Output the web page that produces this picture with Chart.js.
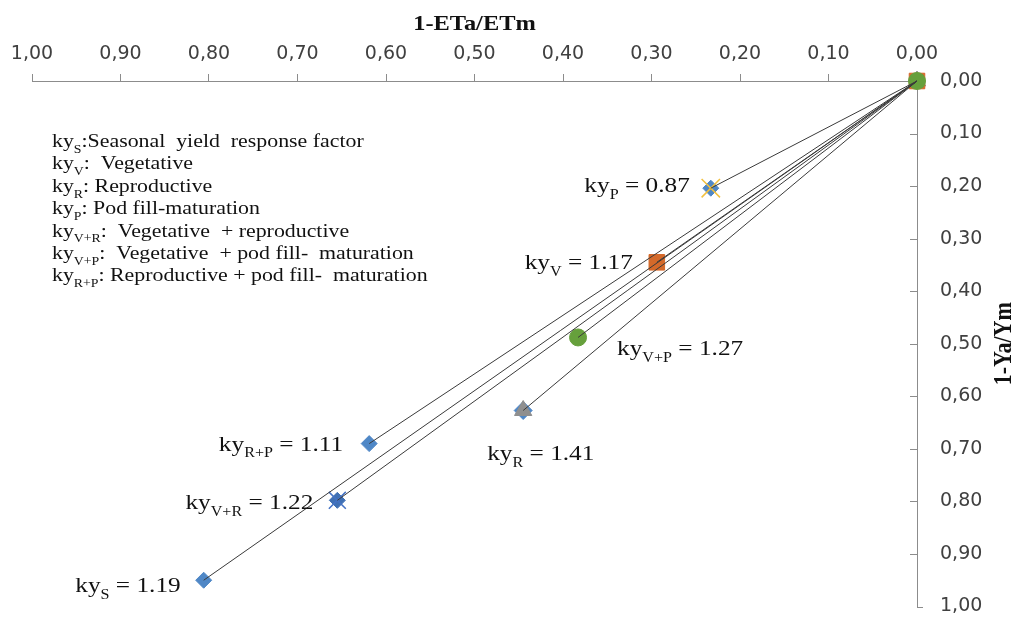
<!DOCTYPE html>
<html>
<head>
<meta charset="utf-8">
<script src="https://cdn.jsdelivr.net/npm/chart.js@4.4.1/dist/chart.umd.min.js"></script>
<style>
  html, body { margin: 0; padding: 0; background: #ffffff; overflow: hidden; }
  #wrap { width: 1017px; height: 617px; overflow: hidden; }
</style>
</head>
<body>
<div id="wrap"><canvas id="c" width="1017" height="621"></canvas></div>
<script>
// ---------------- DATA ----------------
const seriesSubscripts = ['S', 'V', 'R', 'P', 'V+R', 'V+P', 'R+P'];
const descriptions = [
  ':Seasonal  yield  response factor',
  ':  Vegetative',
  ': Reproductive',
  ': Pod fill-maturation',
  ':  Vegetative  + reproductive',
  ':  Vegetative  + pod fill-  maturation',
  ': Reproductive + pod fill-  maturation'
];
// relative evapotranspiration deficit (1-ETa/ETm)
const etDeficit = [0.806, 0.294, 0.445, 0.233, 0.655, 0.383, 0.619];
// relative yield decrease (1-Ya/Ym)
const yieldDecrease = [0.950, 0.345, 0.627, 0.204, 0.798, 0.488, 0.690];
// yield response factors shown in the labels
const kyFactors = [1.19, 1.17, 1.41, 0.87, 1.22, 1.27, 1.11];
const axisTicks = [0, 0.1, 0.2, 0.3, 0.4, 0.5, 0.6, 0.7, 0.8, 0.9, 1.0];
const xTitle = '1-ETa/ETm';
const yTitle = '1-Ya/Ym';

// ---------------- STYLES / LAYOUT ----------------
const markerStyles = [
  { style: 'rectRot',  color: '#4F87C6', radius: 8,  layer: 4 },
  { style: 'rect',     color: '#D4692A', radius: 11, layer: 2 },
  { style: 'triangle', color: '#8F8F8F', radius: 10, layer: 3 },
  { style: 'rectRot',  color: '#4F87C6', radius: 8,  layer: 4 },
  { style: 'rectRot',  color: '#3F70B4', radius: 8,  layer: 4 },
  { style: 'circle',   color: '#66A03C', radius: 8.5, layer: 1 },
  { style: 'rectRot',  color: '#4F87C6', radius: 8,  layer: 4 }
];
// extra overlay markers (Excel look), referenced by series index
const extraMarkers = [
  { series: 3, style: 'crossRot', color: '#F2C03E', radius: 13, layer: 3.5, width: 1.5 },
  { series: 4, style: 'crossRot', color: '#4472C4', radius: 12, layer: 3.5, width: 1.5 },
  { series: 2, style: 'rectRot',  color: '#4F87C6', radius: 9,  layer: 5, width: 1 }
];
// label offsets from marker pixel: [dx, dy(baseline), align]
const labelOffsets = [
  [-23, 12, 'right'],
  [-24, 7, 'right'],
  [-36, 50, 'left'],
  [-21, 4, 'right'],
  [-24, 9, 'right'],
  [39, 18, 'left'],
  [-26, 7, 'right']
];

const SERIF = "'Liberation Serif', 'Times New Roman', serif";
const fmt = v => Number(v).toFixed(2).replace('.', ',');

function drawRich(ctx, x, y, parts, size, align, sx, bold, color) {
  const fontFor = p => (bold ? 'bold ' : '') + (p.sub ? Math.round(size * 0.65) : size) + 'px ' + SERIF;
  let w = 0;
  parts.forEach(p => { ctx.font = fontFor(p); w += ctx.measureText(p.t).width; });
  let startX = x;
  if (align === 'right') startX = x - w * sx;
  else if (align === 'center') startX = x - w * sx / 2;
  ctx.save();
  ctx.translate(startX, y);
  ctx.scale(sx, 1);
  ctx.fillStyle = color || '#111111';
  ctx.textAlign = 'left';
  ctx.textBaseline = 'alphabetic';
  let cx = 0;
  parts.forEach(p => {
    ctx.font = fontFor(p);
    ctx.fillText(p.t, cx, p.sub ? size * 0.3 : 0);
    cx += ctx.measureText(p.t).width;
  });
  ctx.restore();
}

// ---------------- DATASETS ----------------
const datasets = [];
// lines (on top)
seriesSubscripts.forEach((s, i) => {
  datasets.push({
    label: 'ky' + s + ' line',
    data: [{ x: 0, y: 0 }, { x: etDeficit[i], y: yieldDecrease[i] }],
    showLine: true,
    borderColor: '#3a3a3a',
    borderWidth: 1,
    pointRadius: 0,
    clip: false,
    order: 0
  });
});
// markers
seriesSubscripts.forEach((s, i) => {
  const m = markerStyles[i];
  datasets.push({
    label: 'ky' + s,
    data: [{ x: 0, y: 0 }, { x: etDeficit[i], y: yieldDecrease[i] }],
    showLine: false,
    pointStyle: m.style,
    pointRadius: m.radius,
    pointBackgroundColor: m.color,
    pointBorderColor: m.color,
    pointBorderWidth: 1,
    clip: false,
    order: m.layer
  });
});
extraMarkers.forEach(e => {
  datasets.push({
    label: 'extra',
    data: [{ x: etDeficit[e.series], y: yieldDecrease[e.series] }],
    showLine: false,
    pointStyle: e.style,
    pointRadius: e.radius,
    pointBackgroundColor: e.color,
    pointBorderColor: e.color,
    pointBorderWidth: e.width,
    clip: false,
    order: e.layer
  });
});

// ---------------- PLUGIN ----------------
const annotationPlugin = {
  id: 'annotations',
  afterDraw(chart) {
    const { ctx, chartArea } = chart;
    const xs = chart.scales.x, ys = chart.scales.y;

    // inward tick marks on the right axis
    ctx.save();
    ctx.strokeStyle = '#8c8c8c';
    ctx.lineWidth = 1;
    axisTicks.forEach(v => {
      if (v === 0) return;
      const py = Math.round(ys.getPixelForValue(v)) + 0.5;
      ctx.beginPath();
      if (v === 1) { ctx.moveTo(ys.left, py); ctx.lineTo(ys.left + 6, py); }
      else { ctx.moveTo(ys.left - 7, py); ctx.lineTo(ys.left, py); }
      ctx.stroke();
    });
    ctx.restore();

    // x axis title
    drawRich(ctx, (chartArea.left + chartArea.right) / 2, 30, [{ t: xTitle }], 22, 'center', 1.11, true, '#111');

    // y axis title (rotated, bottom-to-top)
    ctx.save();
    ctx.translate(1003, (chartArea.top + chartArea.bottom) / 2);
    ctx.rotate(-Math.PI / 2);
    ctx.scale(1, 1.12);
    drawRich(ctx, 0, 7, [{ t: yTitle }], 22, 'center', 1, true, '#111');
    ctx.restore();

    // legend-like description block
    seriesSubscripts.forEach((s, i) => {
      drawRich(ctx, chartArea.left + 20, chartArea.top + 66 + i * 22.4,
        [{ t: 'ky' }, { t: s, sub: true }, { t: descriptions[i] }], 19, 'left', 1.15, false, '#111');
    });

    // point labels
    seriesSubscripts.forEach((s, i) => {
      const px = xs.getPixelForValue(etDeficit[i]);
      const py = ys.getPixelForValue(yieldDecrease[i]);
      const [dx, dy, align] = labelOffsets[i];
      drawRich(ctx, px + dx, py + dy,
        [{ t: 'ky' }, { t: s, sub: true }, { t: ' = ' + kyFactors[i].toFixed(2) }], 22, align, 1.15, false, '#111');
    });
  }
};

const zeroPadding = () => ({ left: 0, top: 0, right: 0, bottom: 0 });

// ---------------- CHART ----------------
new Chart(document.getElementById('c'), {
  type: 'scatter',
  data: { datasets },
  options: {
    responsive: false,
    animation: false,
    devicePixelRatio: 1,
    layout: { padding: { left: 32, right: 0, top: 0, bottom: 11 } },
    plugins: { legend: { display: false }, tooltip: { enabled: false }, title: { display: false } },
    scales: {
      x: {
        type: 'linear',
        position: 'top',
        reverse: true,
        min: 0, max: 1,
        afterBuildTicks: s => { s.ticks = axisTicks.map(v => ({ value: v })); },
        ticks: {
          callback: v => fmt(v),
          font: { family: "'DejaVu Sans', Verdana, sans-serif", size: 19 },
          color: '#404040',
          padding: 9,
          maxRotation: 0,
          autoSkip: false
        },
        grid: { drawOnChartArea: false, drawTicks: true, tickLength: 7, color: '#8c8c8c' },
        border: { display: true, color: '#8c8c8c', width: 1 },
        afterFit: s => { s.height = 81; s.getPadding = zeroPadding; }
      },
      y: {
        type: 'linear',
        position: 'right',
        reverse: true,
        min: 0, max: 1,
        afterBuildTicks: s => { s.ticks = axisTicks.map(v => ({ value: v })); },
        ticks: {
          callback: v => fmt(v),
          font: { family: "'DejaVu Sans', Verdana, sans-serif", size: 19, lineHeight: 1 },
          color: '#404040',
          padding: 0,
          autoSkip: false
        },
        grid: { drawOnChartArea: false, drawTicks: true, tickLength: 23, tickColor: 'rgba(0,0,0,0)', color: '#8c8c8c' },
        border: { display: true, color: '#8c8c8c', width: 1 },
        afterFit: s => { s.width = 100; s.getPadding = zeroPadding; }
      }
    }
  },
  plugins: [annotationPlugin]
});
</script>
</body>
</html>
